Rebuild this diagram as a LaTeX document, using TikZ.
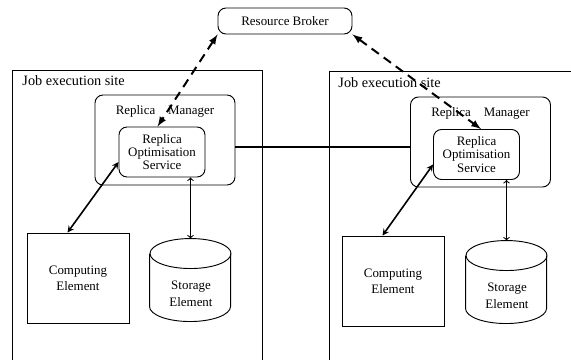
\documentclass[tikz,border=0pt]{standalone}
\usepackage{fontspec}
\setmainfont{Liberation Serif}
\usetikzlibrary{arrows,positioning}

% outline of a storage drum round an empty node
\newcommand{\storagedrum}[1]{%
  \draw (#1.north) ++(0,15) ellipse [x radius=40.5, y radius=15];
  \draw (#1.north west) ++(0,15) -- ++(0,53)
     arc [start angle=180, end angle=0, x radius=40.5, y radius=15] -- ++(0,-53);
}

\begin{document}
\begin{tikzpicture}[x=0.75pt, y=-0.75pt, line width=0.7pt]
\tikzstyle{every node}=[font=\fontsize{9.7}{10}\selectfont, inner sep=0pt] %%
\tikzstyle{rounded}=[draw, rounded corners=6pt, align=center]
\tikzstyle{broker}=[rounded, minimum width=100.5pt, minimum height=19.5pt]
\tikzstyle{manager}=[rounded, minimum width=105pt, minimum height=67.5pt]
\tikzstyle{service}=[rounded, minimum width=64.5pt, minimum height=37.5pt]
\tikzstyle{computing}=[draw, minimum width=76.5pt, minimum height=67.5pt, align=center, font=\fontsize{9.7}{12}\selectfont]
\tikzstyle{storage}=[minimum width=60.75pt, minimum height=62.25pt]
\tikzstyle{storetext}=[align=center, font=\fontsize{9.7}{12.5}\selectfont]
\tikzstyle{sitelabel}=[anchor=west, font=\fontsize{10.7}{12}\selectfont]
\tikzstyle{grid link}=[line width=1.5pt]
\tikzstyle{broker link}=[line width=1.5pt, dash pattern=on 6.75pt off 4.5pt, latex-latex]
\tikzstyle{job link}=[line width=1.2pt, stealth-stealth]
\tikzstyle{disk link}=[line width=0.8pt, <->]

\useasboundingbox (0,0) rectangle (571,360);
\clip (0,0) rectangle (571,360);

% the two sites
\draw (12,70) rectangle (262,380);
\draw (329,71) rectangle (600,380);
\node[sitelabel] (site1) at (22,81) {Job execution site};
\node[sitelabel] (site2) at (338,83) {Job execution site};

\node[broker] (rb) at (285,21) {Resource Broker};

% left site
\node[manager] (rm1) at (165,140) {};
\node[below=8pt of rm1.north] (rmtext1) {Replica\quad Manager};
\node[service] (ros1) at (162,152) {Replica\\Optimisation\\Service};
\node[computing] (ce1) at (78,278) {Computing\\Element};
\node[storage] (se1) at (190.5,280.5) {};
\storagedrum{se1}
\node[storetext] (setext1) at (191,293.5) {Storage\\Element};

% right site
\node[manager] (rm2) at (480.5,142) {};
\node[below=8pt of rm2.north] (rmtext2) {Replica\quad Manager};
\node[service] (ros2) at (476.5,154.5) {Replica\\Optimisation\\Service};
\node[computing] (ce2) at (393,281) {Computing\\Element};
\node[storage] (se2) at (506.5,282.5) {};
\storagedrum{se2}
\node[storetext] (setext2) at (507,295.5) {Storage\\Element};

% connections
\draw[grid link] ([yshift=-5pt]rm1.east) -- ([yshift=-5pt]rm1.east -| rm2.west);
\draw[broker link] (rb.south west) -- (ros1.100);
\draw[broker link] (rb.south east) -- (ros2.80);
\draw[job link] (ros1.193) -- (ce1.103);
\draw[job link] (ros2.193) -- (ce2.103);
\draw[disk link] (ros1.south -| se1.north) -- (se1.north);
\draw[disk link] (ros2.south -| se2.north) -- (se2.north);
\end{tikzpicture}
\end{document}
